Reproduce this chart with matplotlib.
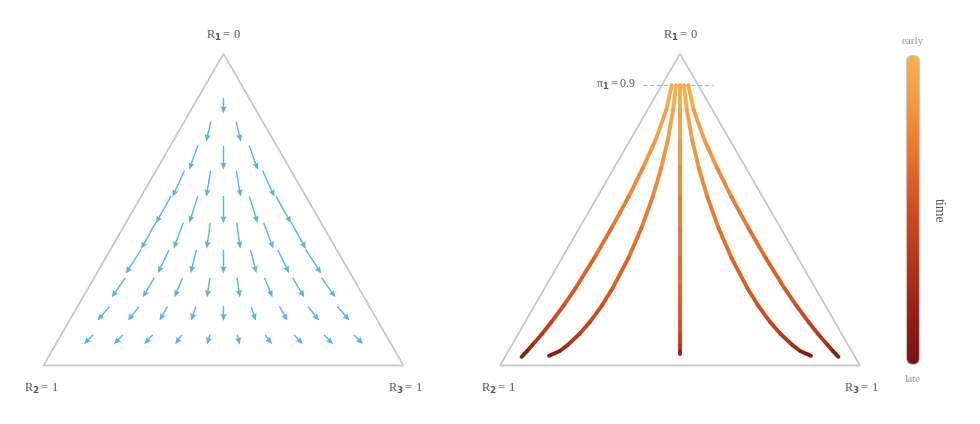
import numpy as np
import matplotlib
matplotlib.use("Agg")
import matplotlib.pyplot as plt
from matplotlib.collections import LineCollection
from matplotlib.colors import LinearSegmentedColormap
from matplotlib.patches import Polygon, FancyBboxPatch

plt.rcParams['font.family'] = ['Liberation Serif', 'DejaVu Serif']
plt.rcParams['mathtext.fontset'] = 'custom'
plt.rcParams['mathtext.bf'] = 'DejaVu Sans:bold'
plt.rcParams['mathtext.rm'] = 'Liberation Serif'

# vector field: grid of the simplex with step 1/12, rows by R1 level (top row first)
grid_n = 12
row_levels = [10, 9, 8, 7, 6, 5, 4, 3, 2, 1]
# arrow components in percent of triangle side
arrow_dx = [
    [0.0],
    [-1.3, 1.3],
    [-2.4, 0.0, 2.4],
    [-3.3, -1.2, 1.2, 3.3],
    [-4.2, -2.3, 0.0, 2.3, 4.2],
    [-4.1, -2.7, -1.0, 1.0, 2.7, 4.1],
    [-4.3, -3.1, -1.6, 0.0, 1.6, 3.1, 4.3],
    [-3.8, -3.2, -2.2, -0.8, 0.8, 2.2, 3.2, 3.8],
    [-3.4, -3.1, -2.2, -1.3, 0.0, 1.3, 2.2, 3.1, 3.4],
    [-2.5, -2.5, -2.4, -1.9, -0.8, 0.8, 1.9, 2.4, 2.5, 2.5],
]
arrow_dy = [
    [-4.2],
    [-5.5, -5.5],
    [-6.7, -6.6, -6.7],
    [-7.3, -7.2, -7.2, -7.3],
    [-7.5, -7.4, -7.6, -7.4, -7.5],
    [-7.4, -7.2, -7.2, -7.2, -7.2, -7.4],
    [-6.7, -6.4, -6.4, -6.5, -6.4, -6.4, -6.7],
    [-5.4, -5.4, -5.4, -5.4, -5.4, -5.4, -5.4, -5.4],
    [-3.9, -3.9, -3.9, -3.9, -4.1, -3.9, -3.9, -3.9, -3.9],
    [-2.6, -2.6, -2.6, -2.6, -2.8, -2.8, -2.6, -2.6, -2.6, -2.6],
]

# trajectories from pi1 = 0.9, positions in triangle units (side = 1)
traj_y = [0.779, 0.710, 0.626, 0.549, 0.468, 0.382, 0.299, 0.215, 0.168,
          0.121, 0.088, 0.057, 0.040]
traj_end_y = [0.024, 0.027, 0.031, 0.027, 0.024]
traj_x = {
    "outer_left":  [0.477, 0.462, 0.432, 0.397, 0.357, 0.310, 0.262, 0.210, 0.178,
                    0.143, 0.117, 0.090, 0.075, 0.060],
    "inner_left":  [0.489, 0.481, 0.466, 0.448, 0.424, 0.393, 0.357, 0.313, 0.284,
                    0.250, 0.221, 0.188, 0.166, 0.136],
    "middle":      [0.500, 0.500, 0.500, 0.500, 0.500, 0.500, 0.500, 0.500, 0.500,
                    0.500, 0.500, 0.500, 0.500, 0.500],
    "inner_right": [0.511, 0.519, 0.534, 0.552, 0.576, 0.607, 0.643, 0.687, 0.716,
                    0.750, 0.779, 0.812, 0.834, 0.864],
    "outer_right": [0.523, 0.538, 0.568, 0.603, 0.643, 0.690, 0.738, 0.790, 0.822,
                    0.857, 0.883, 0.910, 0.925, 0.940],
}
traj_t = {
    "outer_left":  [0, .07, .14, .20, .26, .32, .37, .43, .48, .56, .63, .72, .82, 1.0],
    "inner_left":  [0, .07, .14, .20, .26, .32, .37, .43, .48, .55, .62, .71, .80, 1.0],
    "middle":      [0, .07, .14, .20, .26, .30, .34, .38, .42, .46, .52, .60, .72, .95],
    "inner_right": [0, .07, .14, .20, .26, .32, .37, .43, .48, .55, .62, .71, .80, 1.0],
    "outer_right": [0, .07, .14, .20, .26, .32, .37, .43, .48, .56, .63, .72, .82, 1.0],
}

time_colors = ['#f8b24f', '#f29a43', '#e87a30', '#dd6226', '#cd4a1e',
               '#b43a1c', '#922016', '#7a1212']
time_stops = [0.0, 0.15, 0.3, 0.4, 0.52, 0.65, 0.85, 1.0]
cmap = LinearSegmentedColormap.from_list("time", list(zip(time_stops, time_colors)))

W, H = 980, 424
S = 360
h = np.sqrt(3) / 2
fig = plt.figure(figsize=(W / 100, H / 100), dpi=100)


def panel(ox, oy):
    m, mb, mt = 0.12, 0.12, 0.98
    ax = fig.add_axes([(ox - m * S) / W, (H - oy - mb * S) / H,
                       (1 + 2 * m) * S / W, (mb + mt) * S / H])
    ax.set_xlim(-m, 1 + m)
    ax.set_ylim(-mb, mt)
    ax.axis('off')
    ax.add_patch(Polygon([[0, 0], [1, 0], [0.5, h]], closed=True, fill=False,
                         edgecolor='#c4c4c4', lw=1.2))
    lab = dict(ha='center', va='center', fontsize=9, color='#555555')
    ax.text(0.5, 0.915, r"R$_{\mathbf{1}}\,$= 0", **lab)
    ax.text(-0.005, -0.065, r"R$_{\mathbf{2}}\,$= 1", **lab)
    ax.text(1.005, -0.065, r"R$_{\mathbf{3}}\,$= 1", **lab)
    return ax


# left: vector field
ax1 = panel(43.5, 365.5)
X, Y, U, V = [], [], [], []
for a, dxs, dys in zip(row_levels, arrow_dx, arrow_dy):
    p1 = a / grid_n
    for j, (du, dv) in enumerate(zip(dxs, dys), start=1):
        X.append(j / grid_n + p1 / 2)
        Y.append(p1 * h)
        U.append(du / 100)
        V.append(dv / 100)
ax1.quiver(X, Y, U, V, angles='xy', scale_units='xy', scale=1, pivot='middle',
           color='#56b4e9', units='dots', width=1.4, headwidth=4.3,
           headlength=5.0, headaxislength=4.5)

# right: trajectories
ax2 = panel(500, 365.5)
for k, name in enumerate(traj_x):
    xs = np.array(traj_x[name])
    ys = np.array(traj_y + [traj_end_y[k]])
    ts = np.array(traj_t[name])
    pts = np.column_stack([xs, ys])
    segs = np.stack([pts[:-1], pts[1:]], axis=1)
    cols = cmap((ts[:-1] + ts[1:]) / 2)
    ax2.add_collection(LineCollection(segs, colors=cols, linewidths=2.8,
                                      capstyle='round', joinstyle='round'))

ax2.plot([0.397, 0.592], [0.9 * h, 0.9 * h], ls=(0, (3, 2.5)), color='#b0b0b0', lw=0.9)
ax2.text(0.378, 0.9 * h, "\u03c0" + r"$_{\mathbf{1}}\,$= 0.9", ha='right', va='center',
         fontsize=8.5, color='#555555')

# time colour bar with rounded ends
cax = fig.add_axes([906 / W, (H - 365) / H, 14 / W, 310 / H])
cax.set_xlim(0, 14)
cax.set_ylim(0, 310)
cax.axis('off')
im = cax.imshow(np.linspace(0, 1, 256).reshape(-1, 1), cmap=cmap, aspect='auto',
                extent=[0, 14, 0, 310], origin='upper')
bar = FancyBboxPatch((0.5, 0.5), 13, 309, boxstyle="round,pad=0,rounding_size=6.5",
                     facecolor='none', edgecolor='#c8c8c8', lw=0.8, clip_on=False)
cax.add_patch(bar)
im.set_clip_path(bar)
fig.text(913 / W, 1 - 41 / H, "early", ha='center', va='center', fontsize=8, color='#999999')
fig.text(913 / W, 1 - 379 / H, "late", ha='center', va='center', fontsize=8, color='#999999')
fig.text(938 / W, 1 - 210 / H, "time", ha='center', va='center', fontsize=10,
         color='#555555', rotation=270)

fig.savefig("out.png", dpi=100)
